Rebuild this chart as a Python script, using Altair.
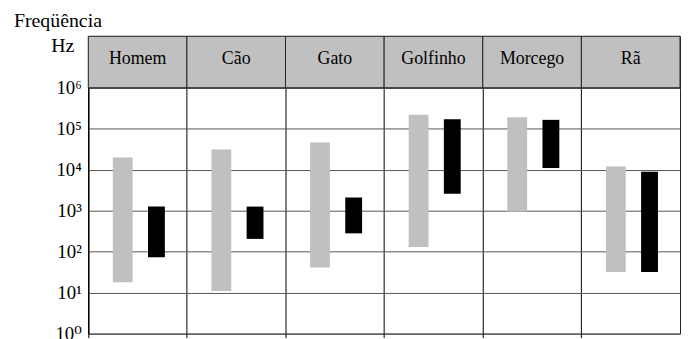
import altair as alt
import pandas as pd

animais = ["Homem", "Cão", "Gato", "Golfinho", "Morcego", "Rã"]
ouvir_min = [18, 11, 41, 130, 950, 32]
ouvir_max = [20000, 31000, 46000, 220000, 190000, 12000]
emitir_min = [73, 205, 280, 2600, 11000, 32]
emitir_max = [1260, 1260, 2100, 170000, 165000, 8900]

df = pd.DataFrame({
    "animal": animais,
    "ouv_min": ouvir_min,
    "ouv_max": ouvir_max,
    "emi_min": emitir_min,
    "emi_max": emitir_max,
})

FONT = "'Liberation Serif', 'Times New Roman', 'DejaVu Serif', serif"
W = 597
xs = alt.Scale(domain=animais, paddingInner=0, paddingOuter=0)
ys = alt.Scale(type="log", domain=[1, 1e6])

# ---- header row
hbase = alt.Chart(df).properties(width=W, height=52)
h_rect = hbase.mark_rect(fill="#c0c0c0", stroke="#222", strokeWidth=1).encode(
    x=alt.X("animal:N", scale=xs, sort=animais, axis=None)
)
h_text = hbase.mark_text(font=FONT, fontSize=18, baseline="middle", color="black").encode(
    x=alt.X("animal:N", scale=xs, sort=animais, axis=None),
    y=alt.value(23),
    text="animal:N",
)
t_freq = alt.Chart(pd.DataFrame({"t": ["Freqüência"]})).mark_text(
    font=FONT, fontSize=20, align="left", baseline="alphabetic", color="black"
).encode(x=alt.value(-75), y=alt.value(-9), text="t:N")
t_hz = alt.Chart(pd.DataFrame({"t": ["Hz"]})).mark_text(
    font=FONT, fontSize=20, align="right", baseline="alphabetic", color="black"
).encode(x=alt.value(-14), y=alt.value(16), text="t:N")
header = alt.layer(h_rect, h_text, t_freq, t_hz)

# ---- main plot
xaxis = alt.Axis(
    title=None, labels=False, domain=False, ticks=True, tickSize=4, tickColor="black",
    bandPosition=0, grid=True, gridColor="black", gridWidth=1,
)
yaxis = alt.Axis(
    title=None, values=[1, 10, 100, 1000, 10000, 100000, 1000000],
    labelExpr="'10' + ['⁰','¹','²','³','⁴','⁵','⁶'][round(log(datum.value)/LN10)]",
    labelFont=FONT, labelFontSize=19, labelColor="black", labelPadding=7,
    ticks=False, domain=True, domainColor="black", grid=True, gridColor="#555",
    gridWidth=1,
)
base = alt.Chart(df).properties(width=W, height=248)
gray = base.mark_bar(color="#c0c0c0", width=20, xOffset=-15).encode(
    x=alt.X("animal:N", scale=xs, sort=animais, axis=xaxis),
    y=alt.Y("ouv_min:Q", scale=ys, axis=yaxis),
    y2="ouv_max:Q",
)
black = base.mark_bar(color="black", width=17, xOffset=19).encode(
    x=alt.X("animal:N", scale=xs, sort=animais, axis=xaxis),
    y=alt.Y("emi_min:Q", scale=ys, axis=yaxis),
    y2="emi_max:Q",
)
main = alt.layer(gray, black)

chart = alt.vconcat(header, main, spacing=0, bounds="flush").properties(
    padding={"left": 5, "top": 1, "right": 0, "bottom": 0}
).configure_view(stroke="#222", strokeWidth=1)

chart.save("out.html", embed_options={"renderer": "svg", "actions": False})
